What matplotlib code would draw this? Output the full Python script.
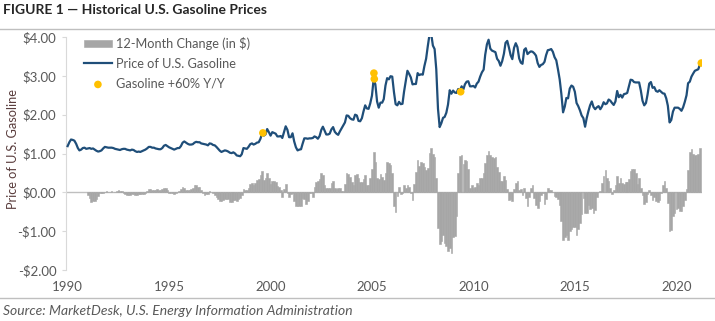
import numpy as np
import pandas as pd
import matplotlib
matplotlib.use('Agg')
import matplotlib.pyplot as plt

# monthly U.S. regular gasoline price ($/gal), Aug 1990 - Oct 2021
start_year, start_month = 1990, 8
prices = [
    1.19, 1.29, 1.36, 1.35, 1.33,                                                # 1990
    1.25, 1.14, 1.08, 1.10, 1.14, 1.15, 1.12, 1.13, 1.14, 1.12, 1.13, 1.10,      # 1991
    1.07, 1.05, 1.06, 1.08, 1.13, 1.17, 1.16, 1.15, 1.15, 1.15, 1.14, 1.12,      # 1992
    1.11, 1.10, 1.09, 1.11, 1.12, 1.12, 1.10, 1.09, 1.08, 1.10, 1.09, 1.06,      # 1993
    1.04, 1.05, 1.04, 1.06, 1.08, 1.10, 1.13, 1.17, 1.17, 1.15, 1.15, 1.13,      # 1994
    1.12, 1.11, 1.11, 1.14, 1.20, 1.22, 1.19, 1.16, 1.14, 1.12, 1.10, 1.12,      # 1995
    1.14, 1.14, 1.19, 1.28, 1.31, 1.28, 1.25, 1.23, 1.23, 1.24, 1.28, 1.30,      # 1996
    1.29, 1.29, 1.26, 1.25, 1.24, 1.23, 1.21, 1.26, 1.25, 1.22, 1.21, 1.17,      # 1997
    1.12, 1.07, 1.04, 1.06, 1.08, 1.07, 1.05, 1.02, 1.01, 1.03, 1.00, 0.95,      # 1998
    0.94, 0.93, 0.98, 1.14, 1.13, 1.12, 1.17, 1.24, 1.26, 1.23, 1.25, 1.28,      # 1999
    1.29, 1.38, 1.52, 1.46, 1.49, 1.63, 1.55, 1.46, 1.55, 1.53, 1.51, 1.44,      # 2000
    1.44, 1.45, 1.40, 1.55, 1.70, 1.61, 1.42, 1.42, 1.52, 1.31, 1.16, 1.08,      # 2001
    1.10, 1.11, 1.25, 1.39, 1.39, 1.38, 1.39, 1.39, 1.40, 1.44, 1.42, 1.38,      # 2002
    1.45, 1.61, 1.69, 1.59, 1.49, 1.49, 1.51, 1.62, 1.68, 1.56, 1.51, 1.48,      # 2003
    1.57, 1.65, 1.73, 1.80, 1.98, 1.97, 1.91, 1.88, 1.87, 2.00, 1.98, 1.84,      # 2004
    1.83, 1.91, 2.08, 2.24, 2.16, 2.15, 2.29, 2.49, 2.92, 2.78, 2.34, 2.18,      # 2005
    2.31, 2.31, 2.40, 2.75, 2.94, 2.91, 2.99, 2.98, 2.58, 2.27, 2.24, 2.33,      # 2006
    2.27, 2.28, 2.59, 2.86, 3.13, 3.05, 2.96, 2.78, 2.79, 2.79, 3.07, 3.02,      # 2007
    3.04, 3.03, 3.25, 3.44, 3.76, 4.06, 4.09, 3.78, 3.69, 3.17, 2.15, 1.68,      # 2008
    1.78, 1.92, 1.94, 2.05, 2.26, 2.63, 2.54, 2.62, 2.57, 2.56, 2.66, 2.62,      # 2009
    2.73, 2.65, 2.78, 2.85, 2.86, 2.73, 2.73, 2.74, 2.70, 2.80, 2.85, 2.98,      # 2010
    3.09, 3.16, 3.54, 3.81, 3.93, 3.70, 3.65, 3.63, 3.61, 3.44, 3.38, 3.26,      # 2011
    3.38, 3.57, 3.85, 3.90, 3.73, 3.53, 3.43, 3.72, 3.84, 3.74, 3.45, 3.34,      # 2012
    3.31, 3.67, 3.71, 3.56, 3.60, 3.63, 3.62, 3.58, 3.52, 3.33, 3.23, 3.28,      # 2013
    3.30, 3.36, 3.53, 3.66, 3.67, 3.69, 3.62, 3.48, 3.40, 3.17, 2.91, 2.54,      # 2014
    2.06, 2.21, 2.43, 2.42, 2.67, 2.75, 2.72, 2.59, 2.30, 2.22, 2.11, 1.98,      # 2015
    1.91, 1.69, 1.91, 2.09, 2.24, 2.34, 2.20, 2.14, 2.19, 2.22, 2.14, 2.21,      # 2016
    2.32, 2.27, 2.29, 2.39, 2.36, 2.30, 2.25, 2.34, 2.61, 2.45, 2.51, 2.44,      # 2017
    2.53, 2.54, 2.56, 2.73, 2.90, 2.89, 2.84, 2.83, 2.83, 2.83, 2.62, 2.36,      # 2018
    2.24, 2.30, 2.51, 2.80, 2.84, 2.69, 2.71, 2.61, 2.59, 2.63, 2.59, 2.55,      # 2019
    2.54, 2.42, 2.23, 1.80, 1.86, 2.08, 2.18, 2.18, 2.18, 2.15, 2.10, 2.19,      # 2020
    2.33, 2.50, 2.81, 2.85, 2.98, 3.06, 3.13, 3.15, 3.17, 3.30,                  # 2021
]

# weeks flagged as gasoline up more than 60% year over year
marker_dates = ['2000-03-15', '2005-09-05', '2005-09-12', '2009-12-15', '2021-10-25']
marker_vals = [1.53, 3.07, 2.92, 2.59, 3.33]

tick_years = [1990, 1995, 2000, 2005, 2010, 2015, 2020]
ytick_vals = [-2, -1, 0, 1, 2, 3, 4]
ytick_labels = ['-$2.00', '-$1.00', '$0.00', '$1.00', '$2.00', '$3.00', '$4.00']

dates = pd.date_range(f'{start_year}-{start_month:02d}-01', periods=len(prices), freq='MS')
df = pd.DataFrame({'price': prices}, index=dates)
df['chg'] = df['price'].diff(12)


def dec_year(d):
    d = pd.to_datetime(d)
    return d.year + (d.dayofyear - 1) / 365.25


x = np.array([dec_year(d) for d in df.index])
x0 = x[0]

plt.rcParams['font.family'] = ['Lato', 'DejaVu Sans']
grey = '#595959'

fig = plt.figure(figsize=(7.15, 3.21), dpi=100)
ax = fig.add_axes([66 / 715, 1 - 270 / 321, 636 / 715, 233 / 321])

bars = ax.bar(x, df['chg'].values, width=1 / 12, color='#a6a6a6', edgecolor='#a6a6a6',
              linewidth=0.4, label='12-Month Change (in $)', zorder=2)
line, = ax.plot(x, df['price'].values, color='#1f4e79', lw=1.6, label='Price of U.S. Gasoline', zorder=3)
mx = [dec_year(d) for d in marker_dates]
dots = ax.scatter(mx, marker_vals, s=30, color='#ffc000', edgecolor='none',
                  label='Gasoline +60% Y/Y', zorder=4)

ax.axhline(0, color='#bfbfbf', lw=1, zorder=1)
ax.set_ylim(-2, 4)
ax.set_xlim(x0 - 0.08, x[-1] + 0.1)
ax.set_yticks(ytick_vals)
ax.set_yticklabels(ytick_labels)
ax.set_xticks([x0 + (y - 1990) for y in tick_years])
ax.set_xticklabels([str(y) for y in tick_years])
ax.tick_params(axis='both', labelcolor=grey, labelsize=9.5)
ax.tick_params(axis='y', pad=4, length=3, color='#d9d9d9')
ax.tick_params(axis='x', pad=8, length=0)
for s in ['top', 'right', 'bottom']:
    ax.spines[s].set_visible(False)
ax.spines['left'].set_color('#d9d9d9')

ax.set_ylabel('Price of U.S. Gasoline', color='#5a3d3d', fontsize=9.2)
ax.yaxis.set_label_coords(-0.074, 0.52)

leg = ax.legend([bars, line, dots], [bars.get_label(), line.get_label(), dots.get_label()],
                loc='upper left', bbox_to_anchor=(0.01, 1.05), frameon=False,
                fontsize=9.2, labelcolor=grey, handlelength=2.2, handletextpad=0.3,
                labelspacing=0.6, handleheight=0.5)

fig.text(0.004, 0.968, 'FIGURE 1 \u2014 Historical U.S. Gasoline Prices', fontsize=10,
         fontweight='bold', color='#262626', va='center')
fig.add_artist(plt.Line2D([0, 1], [1 - 29 / 321, 1 - 29 / 321], color='#bfbfbf', lw=1))
fig.add_artist(plt.Line2D([0, 1], [1 - 298 / 321, 1 - 298 / 321], color='#bfbfbf', lw=1))
fig.text(0.004, 1 - 311 / 321, 'Source: MarketDesk, U.S. Energy Information Administration',
         fontsize=10, style='italic', color=grey, va='center')

fig.savefig('out.png', dpi=100)
